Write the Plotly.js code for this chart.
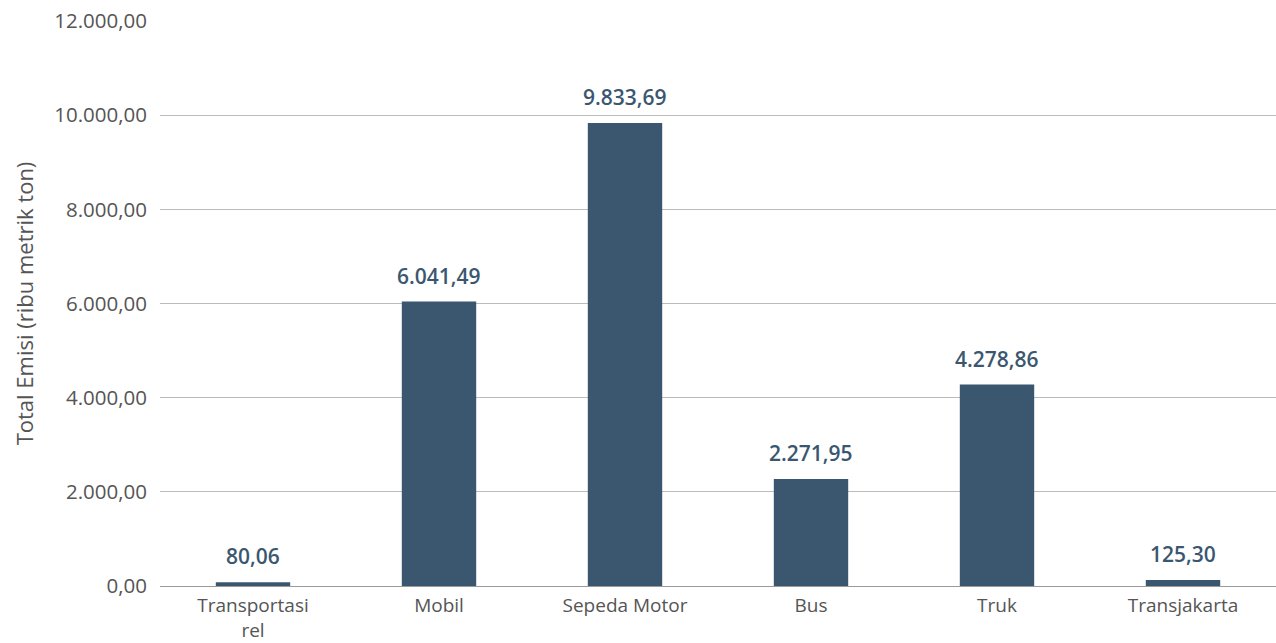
<!DOCTYPE html>
<html><head><meta charset="utf-8">
<script src="https://cdn.plot.ly/plotly-3.0.1.min.js"></script>
<style>html,body{margin:0;padding:0;background:#fff}#chart{width:1276px;height:643px}</style>
</head><body><div id="chart"></div>
<script>
const categories = ["Transportasi<br>rel", "Mobil", "Sepeda Motor", "Bus", "Truk", "Transjakarta"];
const emissions = [80.06, 6041.49, 9833.69, 2271.95, 4278.86, 125.30];
const yTitle = "Total Emisi (ribu metrik ton)";

const font = "'Open Sans', sans-serif";
const labelColor = "#3b5770";
const fmt = v => v.toLocaleString("de-DE", {minimumFractionDigits: 2, maximumFractionDigits: 2});

Plotly.newPlot("chart", [{
  type: "bar",
  x: categories,
  y: emissions,
  marker: {color: "#3b5770"},
  cliponaxis: false,
  hoverinfo: "skip"
}], {
  width: 1276, height: 643,
  separators: ",.",
  margin: {l: 160, r: 0, t: 21, b: 57},
  bargap: 0.6,
  showlegend: false,
  paper_bgcolor: "#fff", plot_bgcolor: "#fff",
  font: {family: font, size: 20, color: "#555"},
  annotations: categories.map((c, i) => ({
    x: c, y: emissions[i], xref: "x", yref: "y",
    text: fmt(emissions[i]), showarrow: false,
    yanchor: "bottom", yshift: 10,
    font: {family: font, size: 21, color: labelColor, weight: 600}
  })),
  xaxis: {
    automargin: false, showgrid: false, showline: true, linecolor: "#999", linewidth: 1,
    ticks: "", ticklabelstandoff: 2, tickfont: {size: 19, color: "#555"}
  },
  yaxis: {
    automargin: false, range: [0, 12000], tickvals: [0, 2000, 4000, 6000, 8000, 10000, 12000],
    tickformat: ",.2f", showgrid: true, gridcolor: "#bbb", gridwidth: 1, zeroline: false,
    showline: false, ticks: "", ticklen: 0, ticklabelstandoff: 12, tickfont: {size: 20.5, color: "#555"},
    title: {text: yTitle, font: {size: 22, color: "#555"}, standoff: 14}
  }
}, {staticPlot: true});
</script></body></html>
